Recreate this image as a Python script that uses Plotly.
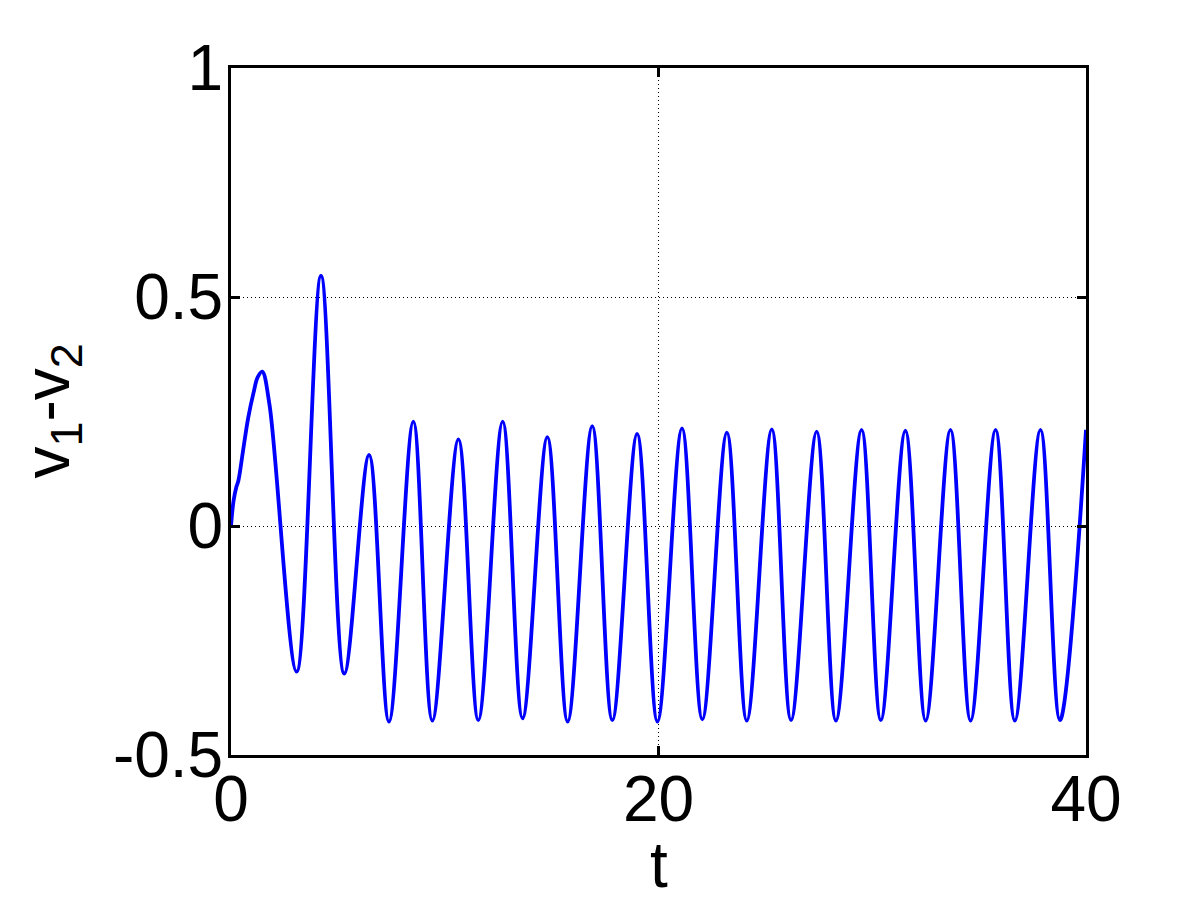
import plotly.graph_objects as go

# Curve samples (early transient, then local extrema)
t_vals = [0.0, 0.12, 0.25, 0.35, 0.55, 0.8, 1.05, 1.25, 1.46, 1.8,
          3.07, 4.21, 5.30, 6.46, 7.39,
          8.53, 9.42, 10.64, 11.57, 12.71,
          13.64, 14.80, 15.75, 16.90, 17.84,
          19.00, 19.95, 21.10, 22.05, 23.20,
          24.13, 25.30, 26.20, 27.40, 28.30,
          29.50, 30.40, 31.55, 32.50, 33.66,
          34.60, 35.77, 36.67, 37.87, 38.78,
          40.0]

v_diff = [0.0, 0.055, 0.085, 0.10, 0.16, 0.235, 0.29, 0.325, 0.337, 0.265,
          -0.318, 0.546, -0.322, 0.155, -0.427,
          0.228, -0.425, 0.189, -0.424, 0.228,
          -0.420, 0.194, -0.427, 0.218, -0.424,
          0.201, -0.427, 0.213, -0.422, 0.204,
          -0.425, 0.211, -0.424, 0.206, -0.425,
          0.210, -0.424, 0.208, -0.425, 0.210,
          -0.425, 0.210, -0.425, 0.210, -0.424,
          0.210]

x_ticks = [0, 20, 40]
y_ticks = [-0.5, 0, 0.5, 1]
y_tick_text = ["-0.5", "0", "0.5", "1"]

FONT = "Liberation Sans, Arial, Helvetica, sans-serif"
FS = 64

fig = go.Figure()
fig.add_trace(go.Scatter(
    x=t_vals, y=v_diff, mode="lines",
    line=dict(color="#0000FF", width=3.8, shape="spline", smoothing=1.0),
    showlegend=False, hoverinfo="skip",
))

axis_common = dict(
    showline=True, linecolor="black", linewidth=3, mirror="ticks",
    ticks="inside", ticklen=9, tickwidth=3, tickcolor="black",
    showgrid=True, gridcolor="black", gridwidth=1, griddash="1px,3px",
    zeroline=False,
    tickfont=dict(family=FONT, size=FS, color="black"),
)

fig.update_xaxes(range=[0, 40], tickvals=x_ticks, ticktext=[str(v) for v in x_ticks],
                 ticklabelstandoff=-14, **axis_common)
fig.update_yaxes(range=[-0.5, 1], tickvals=y_ticks, ticktext=y_tick_text,
                 ticklabelstandoff=-8, **axis_common)

fig.add_annotation(text="t", xref="paper", yref="paper", x=0.5, y=0,
                   xanchor="center", yanchor="top", yshift=-72, showarrow=False,
                   font=dict(family=FONT, size=FS, color="black"))
fig.add_annotation(text="v<sub>1</sub>-v<sub>2</sub>", xref="paper", yref="paper",
                   x=0, y=0.5, xanchor="right", yanchor="middle", xshift=-139,
                   textangle=-90, showarrow=False,
                   font=dict(family=FONT, size=FS, color="black"))

fig.update_layout(
    width=1201, height=901,
    margin=dict(l=231, r=115, t=68, b=146),
    paper_bgcolor="white", plot_bgcolor="white",
)

fig.write_html("out.html", config={"displayModeBar": False},
               post_script="document.body.style.margin='0';document.body.style.overflow='hidden';")
